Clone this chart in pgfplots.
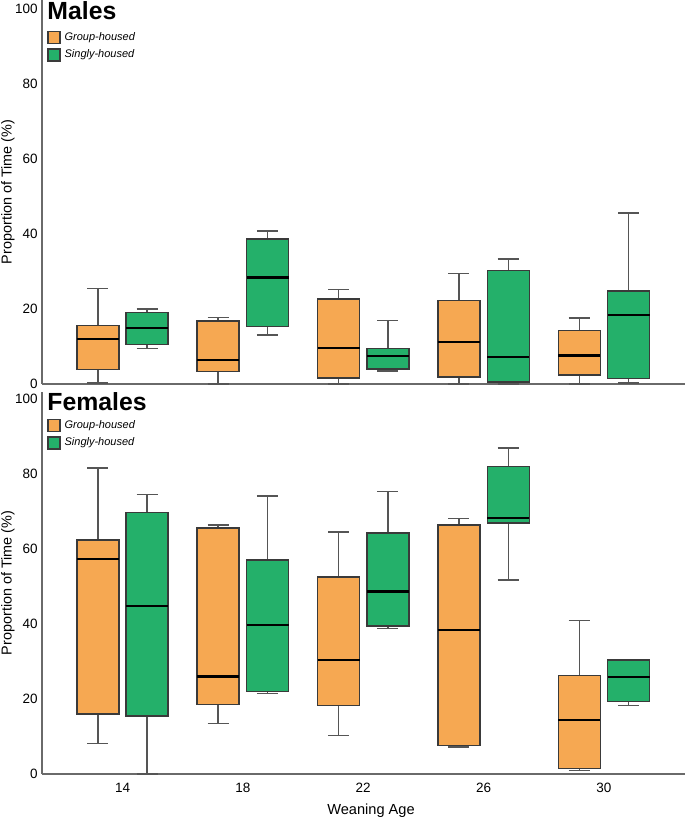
\documentclass[border=0pt]{standalone}
\usepackage{pgfplots}
\pgfplotsset{compat=1.18}
\usepgfplotslibrary{statistics}
\usepackage{fontspec}
\setmainfont{Liberation Sans}
\definecolor{grp}{HTML}{F6A852}
\definecolor{sng}{HTML}{24B06A}
\definecolor{edge}{HTML}{3A3A3A}
\definecolor{wsk}{HTML}{555555}
\definecolor{axc}{HTML}{6A6A6A}
\pgfplotsset{
  panel/.style={
    scale only axis, width=321.5pt,
    xmin=-0.669, xmax=4.674, ymin=0,
    axis x line*=bottom, axis y line*=left,
    axis line style={draw=axc, line width=0.7pt},
    major tick length=0pt,
    ytick={0,20,40,60,80,100},
    xtick={0,1,2,3,4},
    yticklabel style={font=\fontsize{6.75}{8}\selectfont, inner sep=0pt, xshift=-2pt},
    xticklabel style={font=\fontsize{6.75}{8}\selectfont, inner sep=0pt, yshift=-4.3pt},
    /pgf/number format/assume math mode=true,
    ylabel={Proportion of Time (\%)},
    ylabel style={font=\fontsize{7.2}{8}\selectfont, at={(axis description cs:-0.0529,0.5)}, anchor=center},
    clip=false,
    legend cell align=left,
    legend style={draw=none, fill=none, inner sep=0pt, row sep=2pt,
      font=\itshape\fontsize{5.5}{6.5}\selectfont,
      nodes={inner sep=0pt},
      /tikz/every odd column/.style={column sep=2pt}},
    legend image code/.code={\draw[##1, line width=0.6pt] (0pt,-3pt) rectangle (6pt,3pt);},
    boxplot/draw direction=y,
    boxplot/every whisker/.style={draw=wsk, line width=0.7pt},
    boxplot/every median/.style={draw=black, line width=1.1pt},
  },
  gbox/.style={boxplot/every box/.style={fill=grp, draw=edge, line width=0.7pt}},
  sbox/.style={boxplot/every box/.style={fill=sng, draw=edge, line width=0.7pt}},
}
\begin{document}
\begin{tikzpicture}
\path[use as bounding box] (0,0) rectangle (342.5pt,409pt);
% ---------------- Males ----------------
\begin{axis}[panel, at={(21pt,217pt)}, anchor=south west,
  height=192pt, ymax=102.4, xticklabels={},
  legend style={at={(axis description cs:0.0078,0.920)}, anchor=north west}]
\addlegendimage{fill=grp, draw=edge}
\addlegendentry{Group-housed}
\addlegendimage{fill=sng, draw=edge}
\addlegendentry{Singly-housed}
\addplot[gbox, boxplot prepared={draw position=-0.205, lower whisker=0.3, lower quartile=3.8, median=11.9, upper quartile=15.6, upper whisker=25.5, box extend=0.349, whisker extend=0.175}] coordinates {};
\addplot[sbox, boxplot prepared={draw position=0.205, lower whisker=9.5, lower quartile=10.5, median=14.9, upper quartile=19.1, upper whisker=20.0, box extend=0.349, whisker extend=0.175}] coordinates {};
\addplot[gbox, boxplot prepared={draw position=0.795, lower whisker=0, lower quartile=3.3, median=6.5, upper quartile=16.8, upper whisker=17.8, box extend=0.349, whisker extend=0.175}] coordinates {};
\addplot[sbox, boxplot prepared={draw position=1.205, lower whisker=13.1, lower quartile=15.3, median=28.4, upper quartile=38.7, upper whisker=40.8, box extend=0.349, whisker extend=0.175}] coordinates {};
\addplot[gbox, boxplot prepared={draw position=1.795, lower whisker=0, lower quartile=1.6, median=9.7, upper quartile=22.7, upper whisker=25.2, box extend=0.349, whisker extend=0.175}] coordinates {};
\addplot[sbox, boxplot prepared={draw position=2.205, lower whisker=3.5, lower quartile=4.0, median=7.5, upper quartile=9.5, upper whisker=16.9, box extend=0.349, whisker extend=0.175}] coordinates {};
\addplot[gbox, boxplot prepared={draw position=2.795, lower whisker=0, lower quartile=1.9, median=11.2, upper quartile=22.3, upper whisker=29.4, box extend=0.349, whisker extend=0.175}] coordinates {};
\addplot[sbox, boxplot prepared={draw position=3.205, lower whisker=0.05, lower quartile=0.5, median=7.3, upper quartile=30.2, upper whisker=33.3, box extend=0.349, whisker extend=0.175}] coordinates {};
\addplot[gbox, boxplot prepared={draw position=3.795, lower whisker=0, lower quartile=2.4, median=7.6, upper quartile=14.2, upper whisker=17.6, box extend=0.349, whisker extend=0.175}] coordinates {};
\addplot[sbox, boxplot prepared={draw position=4.205, lower whisker=0.3, lower quartile=1.4, median=18.4, upper quartile=24.8, upper whisker=45.6, box extend=0.349, whisker extend=0.175}] coordinates {};
\node[anchor=base west, inner sep=0pt, font=\bfseries\fontsize{12.4}{14}\selectfont] at (axis description cs:0.0078,0.9497) {Males};
\end{axis}
% ---------------- Females ----------------
\begin{axis}[panel, at={(21pt,22pt)}, anchor=south west,
  height=191pt, ymax=101.9, xticklabels={14,18,22,26,30},
  xlabel={Weaning Age},
  xlabel style={font=\fontsize{7.3}{8}\selectfont, at={(axis description cs:0.5117,-0.1073)}, anchor=base},
  legend style={at={(axis description cs:0.0078,0.930)}, anchor=north west}]
\addlegendimage{fill=grp, draw=edge}
\addlegendentry{Group-housed}
\addlegendimage{fill=sng, draw=edge}
\addlegendentry{Singly-housed}
\addplot[gbox, boxplot prepared={draw position=-0.205, lower whisker=8.2, lower quartile=16.0, median=57.4, upper quartile=62.4, upper whisker=81.6, box extend=0.349, whisker extend=0.175}] coordinates {};
\addplot[sbox, boxplot prepared={draw position=0.205, lower whisker=0, lower quartile=15.5, median=44.8, upper quartile=69.8, upper whisker=74.6, box extend=0.349, whisker extend=0.175}] coordinates {};
\addplot[gbox, boxplot prepared={draw position=0.795, lower whisker=13.4, lower quartile=18.6, median=26.0, upper quartile=65.6, upper whisker=66.4, box extend=0.349, whisker extend=0.175}] coordinates {};
\addplot[sbox, boxplot prepared={draw position=1.205, lower whisker=21.4, lower quartile=22.0, median=39.8, upper quartile=57.1, upper whisker=74.2, box extend=0.349, whisker extend=0.175}] coordinates {};
\addplot[gbox, boxplot prepared={draw position=1.795, lower whisker=10.2, lower quartile=18.3, median=30.5, upper quartile=52.5, upper whisker=64.6, box extend=0.349, whisker extend=0.175}] coordinates {};
\addplot[sbox, boxplot prepared={draw position=2.205, lower whisker=38.8, lower quartile=39.5, median=48.7, upper quartile=64.3, upper whisker=75.4, box extend=0.349, whisker extend=0.175}] coordinates {};
\addplot[gbox, boxplot prepared={draw position=2.795, lower whisker=7.2, lower quartile=7.6, median=38.4, upper quartile=66.4, upper whisker=68.1, box extend=0.349, whisker extend=0.175}] coordinates {};
\addplot[sbox, boxplot prepared={draw position=3.205, lower whisker=51.8, lower quartile=67.0, median=68.2, upper quartile=82.0, upper whisker=87.0, box extend=0.349, whisker extend=0.175}] coordinates {};
\addplot[gbox, boxplot prepared={draw position=3.795, lower whisker=0.9, lower quartile=1.4, median=14.5, upper quartile=26.3, upper whisker=41.0, box extend=0.349, whisker extend=0.175}] coordinates {};
\addplot[sbox, boxplot prepared={draw position=4.205, lower whisker=18.3, lower quartile=19.3, median=25.8, upper quartile=30.4, upper whisker=30.4, box extend=0.349, whisker extend=0.175}] coordinates {};
\node[anchor=base west, inner sep=0pt, font=\bfseries\fontsize{12.4}{14}\selectfont] at (axis description cs:0.0078,0.951) {Females};
\end{axis}
\end{tikzpicture}
\end{document}
